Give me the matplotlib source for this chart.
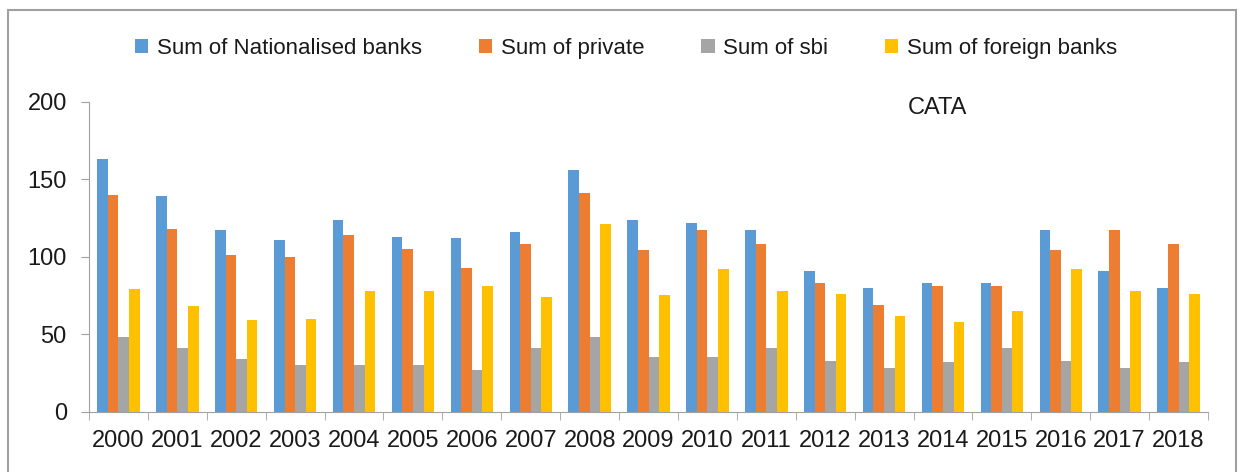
import numpy as np
import matplotlib
matplotlib.use('Agg')
import matplotlib.pyplot as plt
from matplotlib.patches import Rectangle

plt.rcParams['font.family'] = ['Liberation Sans', 'DejaVu Sans']

# данные
years = [str(y) for y in range(2000, 2019)]
nationalised = [163, 139, 117, 111, 124, 113, 112, 116, 156, 124, 122, 117, 91, 80, 83, 83, 117, 91, 80]
private = [140, 118, 101, 100, 114, 105, 93, 108, 141, 104, 117, 108, 83, 69, 81, 81, 104, 117, 108]
sbi = [48, 41, 34, 30, 30, 30, 27, 41, 48, 35, 35, 41, 33, 28, 32, 41, 33, 28, 32]
foreign = [79, 68, 59, 60, 78, 78, 81, 74, 121, 75, 92, 78, 76, 62, 58, 65, 92, 78, 76]

series = [
    ('Sum of Nationalised banks', nationalised, '#5B9BD5'),
    ('Sum of private', private, '#ED7D31'),
    ('Sum of sbi', sbi, '#A5A5A5'),
    ('Sum of foreign banks', foreign, '#FFC000'),
]

fig = plt.figure(figsize=(12.4, 4.72), dpi=100)
ax = fig.add_axes([0.0718, 0.1278, 0.9024, 0.6567])

x = np.arange(len(years))
w = 0.18
for i, (name, vals, col) in enumerate(series):
    ax.bar(x + (i - 1.5) * w, vals, width=w, color=col, label=name)

ax.set_xlim(-0.5, len(years) - 0.5)
ax.set_ylim(0, 200)
ax.set_yticks([0, 50, 100, 150, 200])
ax.set_xticks(x)
ax.set_xticklabels(years)
ax.set_xticks(np.arange(-0.5, len(years)), minor=True)
ax.tick_params(axis='x', which='major', length=0, labelsize=17, pad=13, colors='#1a1a1a')
ax.tick_params(axis='x', which='minor', length=6, color='#a0a0a0', direction='out')
ax.tick_params(axis='y', length=6, labelsize=17, pad=10, colors='#1a1a1a')
ax.tick_params(axis='y', color='#a0a0a0')

for s in ['top', 'right']:
    ax.spines[s].set_visible(False)
for s in ['left', 'bottom']:
    ax.spines[s].set_color('#a0a0a0')

ax.text(0.758, 0.98, 'CATA', transform=ax.transAxes, ha='center', va='center',
        fontsize=17, color='#1a1a1a')

fig.legend(loc='center', bbox_to_anchor=(0.505, 0.898), ncol=4, frameon=False,
           fontsize=16, handlelength=0.6, handleheight=0.6, handletextpad=0.4,
           columnspacing=2.55, labelcolor='#1a1a1a')

# рамка вокруг диаграммы
fig.patches.append(Rectangle((8 / 1240, -0.1), 1228 / 1240, 1.079, transform=fig.transFigure,
                             fill=False, edgecolor='#a0a0a0', linewidth=1.5))

fig.savefig('out.png', dpi=100)
